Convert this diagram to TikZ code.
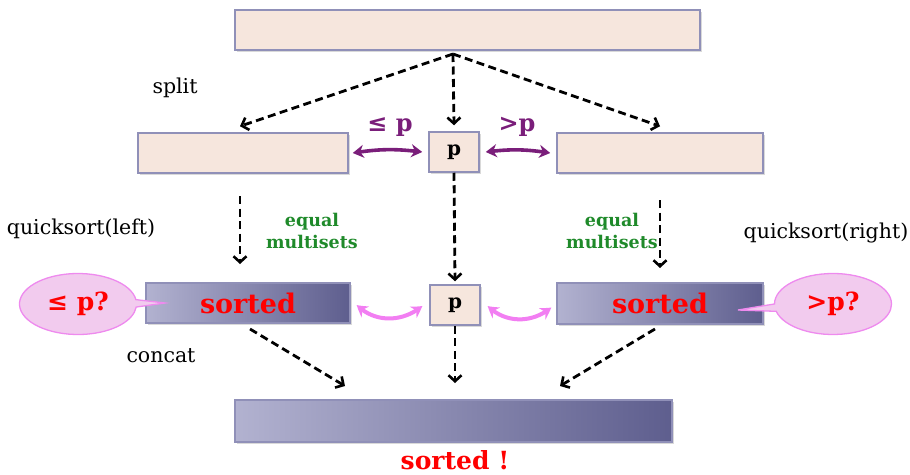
\documentclass[tikz,border=0pt]{standalone}
\usepackage{fontspec}
\setmainfont{DejaVu Serif}
\usetikzlibrary{arrows.meta,shapes.callouts,shadows,bending,calc}
\definecolor{peach}{HTML}{F6E6DD}
\definecolor{boxline}{HTML}{9090B8}
\definecolor{gradL}{HTML}{B2B2D0}
\definecolor{gradR}{HTML}{5E5E8E}
\definecolor{purp}{HTML}{7A1E7A}
\definecolor{pinkarr}{HTML}{F27EF2}
\definecolor{callfill}{HTML}{F2CBEE}
\definecolor{callline}{HTML}{EE8AEE}
\definecolor{grn}{HTML}{1F8A2A}
\tikzset{
  peachbox/.style={draw=boxline, line width=1.5pt, fill=peach, inner sep=0pt,
    drop shadow={shadow xshift=1.5pt, shadow yshift=-2pt, opacity=0.3}},
  gradbox/.style={draw=boxline, line width=1.5pt, left color=gradL, right color=gradR, inner sep=0pt,
    drop shadow={shadow xshift=1.5pt, shadow yshift=-2pt, opacity=0.3}},
  dasharrow/.style={black, line width=2.8pt, dash pattern=on 8pt off 4.5pt,
    -{Straight Barb[length=6pt,width=13pt,line width=2.6pt]}},
  purparrow/.style={purp, line width=3.6pt, {Stealth[length=11pt,width=13pt]}-{Stealth[length=11pt,width=13pt]}},
  pinkarrow/.style={pinkarr, line width=4pt, {Stealth[length=11pt,width=13pt,bend]}-{Stealth[length=11pt,width=13pt,bend]}},
  plain/.style={font=\fontsize{20.5}{24}\selectfont, text=black},
  sortedtxt/.style={font=\bfseries\fontsize{27}{30}\selectfont, text=red},
  multi/.style={font=\bfseries\fontsize{17.5}{22}\selectfont, text=grn, align=center},
  callbox/.style={ellipse callout, draw=callline, line width=1.3pt, fill=callfill,
    minimum width=117pt, minimum height=61pt, callout pointer arc=14,
    font=\bfseries\fontsize{25}{28}\selectfont, text=red},
  purplabel/.style={font=\bfseries\fontsize{24}{27}\selectfont, text=purp},
  pbox/.style={peachbox, minimum width=50pt, minimum height=40pt, font=\bfseries\fontsize{20}{23}\selectfont}
}
\begin{document}
\begin{tikzpicture}[x=1pt,y=-1pt]
\useasboundingbox (0,0) rectangle (910,474);
% boxes
\node[peachbox, minimum width=465pt, minimum height=40pt] (top) at (467.5,30) {};
\node[peachbox, minimum width=210pt, minimum height=40pt] (midL) at (243,153) {};
\node[pbox] (p1) at (454,152) {p};
\node[peachbox, minimum width=206pt, minimum height=40pt] (midR) at (660,153) {};
\node[gradbox, minimum width=204pt, minimum height=40pt, sortedtxt] (sL) at (248,303) {sorted};
\node[pbox] (p2) at (455,305) {p};
\node[gradbox, minimum width=206pt, minimum height=41pt, sortedtxt] (sR) at (660,303.5) {sorted};
\node[gradbox, minimum width=437pt, minimum height=42pt] (bot) at (453.5,421) {};
% callouts
\node[callbox, callout absolute pointer={(165,303)}] (cL) at (78,304) {≤ p?};
\node[callbox, callout absolute pointer={(738,310)}] (cR) at (833,304) {>p?};
% labels
\node[plain] (split) at (175,88) {split};
\node[plain] (qsl) at (81,229) {quicksort(left)};
\node[plain] (qsr) at (826,233) {quicksort(right)};
\node[plain] (concat) at (161,356) {concat};
\node[multi] (eqL) at (312,231) {equal\\multisets};
\node[multi] (eqR) at (612,231) {equal\\multisets};
\node[purplabel] (le) at (390,127) {≤ p};
\node[purplabel] (gt) at (517,127) {>p};
\node[sortedtxt, anchor=base, font=\bfseries\fontsize{25}{28}\selectfont] (done) at (455,469) {sorted !};
% split arrows
\coordinate (src) at (453,54);
\draw[dasharrow] (src) -- ($(midL.north)+(-3,-6)$);
\draw[dasharrow] (src) -- ($(p1.north)+(0,-6)$);
\draw[dasharrow] (src) -- ($(midR.north)+(0,-6)$);
% purple arrows
\draw[purparrow] ($(midL.east)+(4,0)$) to[bend left=8] ($(p1.west)+(-6,0)$);
\draw[purparrow] ($(p1.east)+(6,0)$) to[bend left=8] ($(midR.west)+(-6,0)$);
% quicksort arrows
\coordinate (ql1) at (240,196);
\coordinate (ql2) at (240,264);
\coordinate (qr1) at (660,200);
\coordinate (qr2) at (660,268);
\draw[dasharrow] (ql1) -- (ql2);
\draw[dasharrow] (qr1) -- (qr2);
\draw[dasharrow] (p1.south) -- ($(p2.north)+(0,-3)$);
% pink arrows
\draw[pinkarrow] ($(sL.east)+(6,2)$) to[out=-45,in=-140] ($(p2.west)+(-7,1)$);
\draw[pinkarrow] ($(p2.east)+(7,1)$) to[out=-45,in=-140] ($(sR.west)+(-5,4)$);
% concat arrows
\coordinate (cl1) at (250,329);
\coordinate (cl2) at (345,386);
\coordinate (cr1) at (655,329);
\coordinate (cr2) at (560,386);
\coordinate (cm2) at (455,383);
\draw[dasharrow] (cl1) -- (cl2);
\draw[dasharrow] (p2.south) -- (cm2);
\draw[dasharrow] (cr1) -- (cr2);
\end{tikzpicture}
\end{document}
